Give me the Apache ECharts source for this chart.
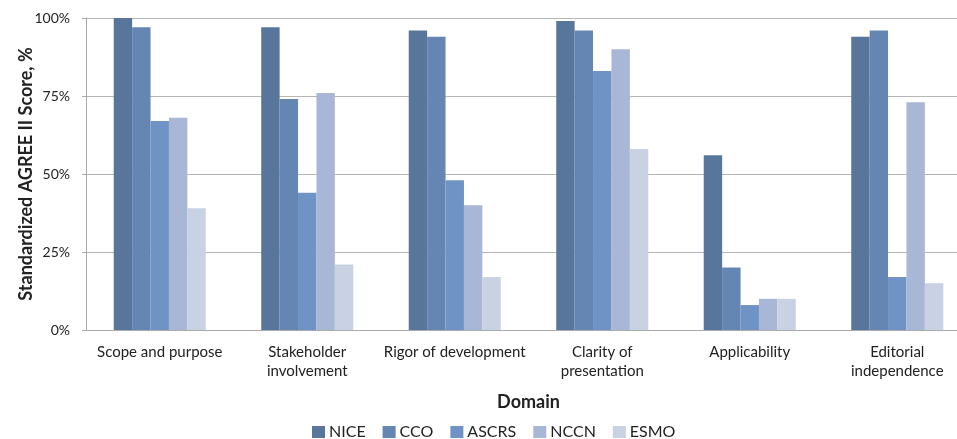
<!DOCTYPE html>
<html><head><meta charset="utf-8">
<script src="https://cdn.jsdelivr.net/npm/echarts@6/dist/echarts.min.js"></script>
<style>html,body{margin:0;padding:0;background:#fff}#c{width:957px;height:439px}</style>
</head><body><div id="c"></div>
<script>
const categories = ['Scope and purpose','Stakeholder\ninvolvement','Rigor of development','Clarity of\npresentation','Applicability','Editorial\nindependence'];
const seriesNames = ['NICE','CCO','ASCRS','NCCN','ESMO'];
const NICE  = [100, 97, 96, 99, 56, 94];
const CCO   = [97, 74, 94, 96, 20, 96];
const ASCRS = [67, 44, 48, 83, 8, 17];
const NCCN  = [68, 76, 40, 90, 10, 73];
const ESMO  = [39, 21, 17, 58, 10, 15];
const values = [NICE, CCO, ASCRS, NCCN, ESMO];
const colors = ['#58769c','#6585b3','#6f93c4','#a8b7d6','#c8d2e3'];
const font = 'Lato, "Open Sans", sans-serif';
const chart = echarts.init(document.getElementById('c'));
chart.setOption({
  animation:false,
  grid:{left:86, width:885, top:18, height:312, containLabel:false, outerBoundsMode:'none'},
  legend:{top:419, left:307, itemWidth:13, itemHeight:12, itemGap:17, icon:'rect',
    textStyle:{fontFamily:font, fontSize:16, color:'#222', padding:[0,0,0,-1]}, data:seriesNames},
  xAxis:{type:'category', data:categories, name:'Domain', nameLocation:'middle', nameGap:63,
    nameTextStyle:{fontFamily:font, fontSize:18, fontWeight:'bold', color:'#222'},
    axisLine:{lineStyle:{color:'#aaa'}}, axisTick:{show:false},
    axisLabel:{fontFamily:font, fontSize:15, color:'#222', margin:13, lineHeight:19, interval:0}},
  yAxis:{type:'value', min:0, max:100, interval:25, name:'Standardized AGREE II Score, %',
    nameLocation:'middle', nameGap:51, nameRotate:90, nameMoveOverlap:false,
    nameTextStyle:{fontFamily:font, fontSize:18, fontWeight:'bold', color:'#222'},
    axisLine:{show:true, lineStyle:{color:'#aaa'}}, axisTick:{show:true, length:4, lineStyle:{color:'#aaa'}},
    splitLine:{lineStyle:{color:'#b5b5b5'}},
    axisLabel:{fontFamily:font, fontSize:14, color:'#222', margin:16, formatter:'{value}%'}},
  series: seriesNames.map((n,i)=>({name:n, type:'bar', data:values[i], barGap:'0%', barCategoryGap:'37.6%',
    itemStyle:{color:colors[i]}}))
});
</script></body></html>
